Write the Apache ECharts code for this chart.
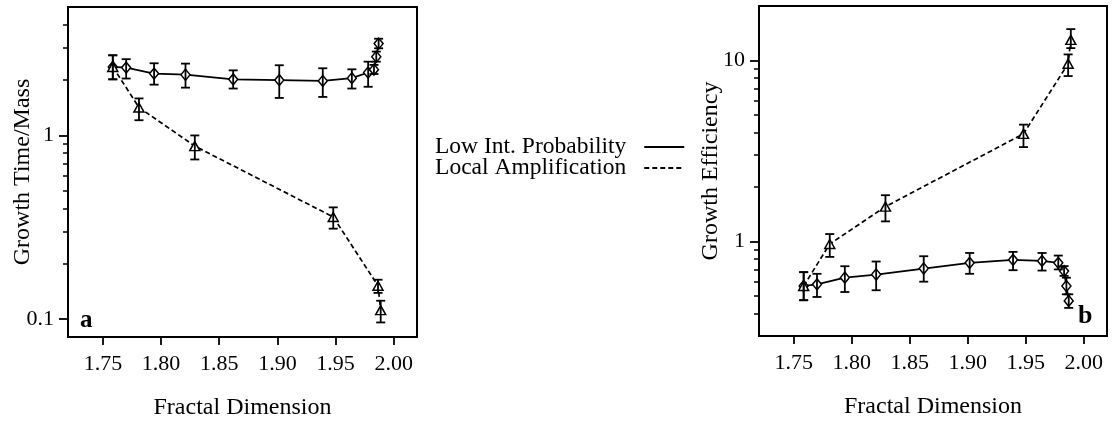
<!DOCTYPE html>
<html>
<head>
<meta charset="utf-8">
<script src="https://cdn.jsdelivr.net/npm/echarts@6/dist/echarts.min.js"></script>
<style>
  html, body { margin: 0; padding: 0; background: #fff; }
  #chart { width: 1112px; height: 425px; }
</style>
</head>
<body>
<div id="chart"></div>
<script>
// Fractal dimension of each run (shared by both panels)
const dims = [1.7585, 1.770, 1.794, 1.821, 1.862, 1.9016, 1.939, 1.964, 1.978, 1.983, 1.985, 1.987];
// Low interaction probability: growth time per unit mass, with error range
const lowTime   = [2.36, 2.34, 2.17, 2.14, 2.02, 2.00, 1.98, 2.05, 2.20, 2.28, 2.68, 3.16];
const lowTimeHi = [2.73, 2.60, 2.47, 2.46, 2.26, 2.41, 2.32, 2.29, 2.52, 2.42, 2.86, 3.36];
const lowTimeLo = [2.02, 2.04, 1.89, 1.82, 1.80, 1.60, 1.62, 1.80, 1.84, 2.16, 2.52, 2.98];
// Low interaction probability: growth efficiency, with error range
const lowEff   = [0.567, 0.579, 0.630, 0.656, 0.708, 0.761, 0.791, 0.780, 0.761, 0.685, 0.567, 0.469];
const lowEffHi = [0.676, 0.662, 0.729, 0.774, 0.828, 0.863, 0.875, 0.863, 0.835, 0.730, 0.630, 0.510];
const lowEffLo = [0.473, 0.493, 0.525, 0.537, 0.599, 0.662, 0.693, 0.690, 0.700, 0.645, 0.510, 0.429];

// Local amplification runs
const ampDims = [1.7585, 1.781, 1.829, 1.948, 1.9865, 1.9888];
const ampTime   = [2.36, 1.42, 0.875, 0.360, 0.152, 0.112];
const ampTimeHi = [2.73, 1.59, 1.00, 0.406, 0.164, 0.126];
const ampTimeLo = [2.02, 1.21, 0.74, 0.311, 0.139, 0.096];
const ampEff   = [0.567, 0.967, 1.556, 3.93, 9.6, 13.0];
const ampEffHi = [0.676, 1.098, 1.80, 4.42, 10.8, 14.9];
const ampEffLo = [0.473, 0.821, 1.29, 3.32, 8.2, 11.7];

// Axis ticks and labels
const xTicks = [1.75, 1.80, 1.85, 1.90, 1.95, 2.00];
const timeMajor = [0.1, 1];
const timeMinor = [0.2, 0.3, 0.4, 0.5, 0.6, 0.7, 0.8, 0.9, 2, 3, 4];
const effMajor = [1, 10];
const effMinor = [0.4, 0.5, 0.6, 0.7, 0.8, 0.9, 2, 3, 4, 5, 6, 7, 8, 9];

const SERIF = '"Liberation Serif", "Times New Roman", serif';
const NAME_LOW = 'Low Int. Probability';
const NAME_AMP = 'Local Amplification';

const pairs = (xs, ys) => xs.map((x, i) => [x, ys[i]]);
const ranges = (xs, lo, hi) => xs.map((x, i) => [x, lo[i], hi[i]]);

// vertical error bar with short caps
function renderErrorBar(params, api) {
  const x = api.value(0);
  const lo = api.coord([x, api.value(1)]);
  const hi = api.coord([x, api.value(2)]);
  const w = 4.5;
  const st = { stroke: '#000', lineWidth: 1.8 };
  return {
    type: 'group',
    children: [
      { type: 'line', shape: { x1: hi[0], y1: hi[1], x2: lo[0], y2: lo[1] }, style: st },
      { type: 'line', shape: { x1: hi[0] - w, y1: hi[1], x2: hi[0] + w, y2: hi[1] }, style: st },
      { type: 'line', shape: { x1: lo[0] - w, y1: lo[1], x2: lo[0] + w, y2: lo[1] }, style: st }
    ]
  };
}

function xAxisFor(gridIndex) {
  return {
    type: 'value', gridIndex, min: 1.72, max: 2.02,
    name: 'Fractal Dimension', nameLocation: 'middle', nameGap: 59, nameMoveOverlap: false,
    nameTextStyle: { fontFamily: SERIF, fontSize: 24, color: '#000' },
    axisLine: { onZero: false, lineStyle: { color: '#000', width: 2 } },
    axisTick: { show: true, customValues: xTicks, length: 8, lineStyle: { color: '#000', width: 1.8 } },
    axisLabel: { customValues: xTicks, margin: 16, fontFamily: SERIF, fontSize: 22, color: '#000',
                 formatter: v => v.toFixed(2) },
    splitLine: { show: false }
  };
}

function yAxisPair(gridIndex, min, max, major, minor, title, gap) {
  return [
    {
      type: 'log', logBase: 10, gridIndex, min, max, position: 'left',
      name: title, nameLocation: 'middle', nameGap: gap, nameMoveOverlap: false,
      nameTextStyle: { fontFamily: SERIF, fontSize: 24, color: '#000' },
      axisLine: { show: true, lineStyle: { color: '#000', width: 2 } },
      axisTick: { show: true, customValues: major, length: 9, lineStyle: { color: '#000', width: 1.8 } },
      axisLabel: { customValues: major, margin: 14, fontFamily: SERIF, fontSize: 22, color: '#000',
                   formatter: v => String(v) },
      splitLine: { show: false }
    },
    {
      type: 'log', logBase: 10, gridIndex, min, max, position: 'left',
      axisLine: { show: false },
      axisTick: { show: true, customValues: minor, length: 5, lineStyle: { color: '#000', width: 1.5 } },
      axisLabel: { show: false },
      splitLine: { show: false }
    }
  ];
}

function panelSeries(xi, yi, lowY, lowLo, lowHi, ampY, ampLo, ampHi) {
  const marker = { color: '#fff', borderColor: '#000', borderWidth: 1.5 };
  return [
    {
      name: NAME_LOW, type: 'line', xAxisIndex: xi, yAxisIndex: yi,
      data: pairs(dims, lowY), symbol: 'diamond', symbolSize: [9, 11],
      showSymbol: true, showAllSymbol: true,
      lineStyle: { color: '#000', width: 1.8, type: 'solid' },
      itemStyle: marker, z: 3
    },
    {
      name: NAME_AMP, type: 'line', xAxisIndex: xi, yAxisIndex: yi,
      data: pairs(ampDims, ampY), symbol: 'triangle', symbolSize: [10, 9],
      showSymbol: true, showAllSymbol: true,
      lineStyle: { color: '#000', width: 1.7, type: [5, 3] },
      itemStyle: marker, z: 3
    },
    {
      type: 'custom', xAxisIndex: xi, yAxisIndex: yi, renderItem: renderErrorBar,
      encode: { x: 0, y: [1, 2] }, data: ranges(dims, lowLo, lowHi), z: 4, silent: true
    },
    {
      type: 'custom', xAxisIndex: xi, yAxisIndex: yi, renderItem: renderErrorBar,
      encode: { x: 0, y: [1, 2] }, data: ranges(ampDims, ampLo, ampHi), z: 4, silent: true
    }
  ];
}

const gridBase = { show: true, borderColor: '#000', borderWidth: 2, backgroundColor: 'transparent',
                   containLabel: false, outerBoundsMode: 'none' };

const chart = echarts.init(document.getElementById('chart'), null, { renderer: 'canvas' });
chart.setOption({
  animation: false,
  backgroundColor: '#fff',
  grid: [
    Object.assign({ left: 68, top: 7, width: 349, height: 330 }, gridBase),
    Object.assign({ left: 759, top: 6, width: 348, height: 330 }, gridBase)
  ],
  xAxis: [xAxisFor(0), xAxisFor(1)],
  yAxis: [
    ...yAxisPair(0, 0.08, 5, timeMajor, timeMinor, 'Growth Time/Mass', 33),
    ...yAxisPair(1, 0.3, 20, effMajor, effMinor, 'Growth Efficiency', 36)
  ],
  legend: {
    data: [NAME_LOW, NAME_AMP],
    orient: 'vertical', left: 430, top: 130, align: 'right',
    itemWidth: 40, itemHeight: 10, itemGap: -3,
    itemStyle: { opacity: 0 },
    selectedMode: false,
    textStyle: { fontFamily: SERIF, fontSize: 23.5, color: '#000', padding: [0, 13, 0, 0] }
  },
  graphic: [
    { type: 'text', left: 80, top: 308, style: { text: 'a', font: 'bold 25px ' + SERIF, fill: '#000' } },
    { type: 'text', left: 1078, top: 303, style: { text: 'b', font: 'bold 26px ' + SERIF, fill: '#000' } }
  ],
  series: [
    ...panelSeries(0, 0, lowTime, lowTimeLo, lowTimeHi, ampTime, ampTimeLo, ampTimeHi),
    ...panelSeries(1, 2, lowEff, lowEffLo, lowEffHi, ampEff, ampEffLo, ampEffHi)
  ]
});
</script>
</body>
</html>
